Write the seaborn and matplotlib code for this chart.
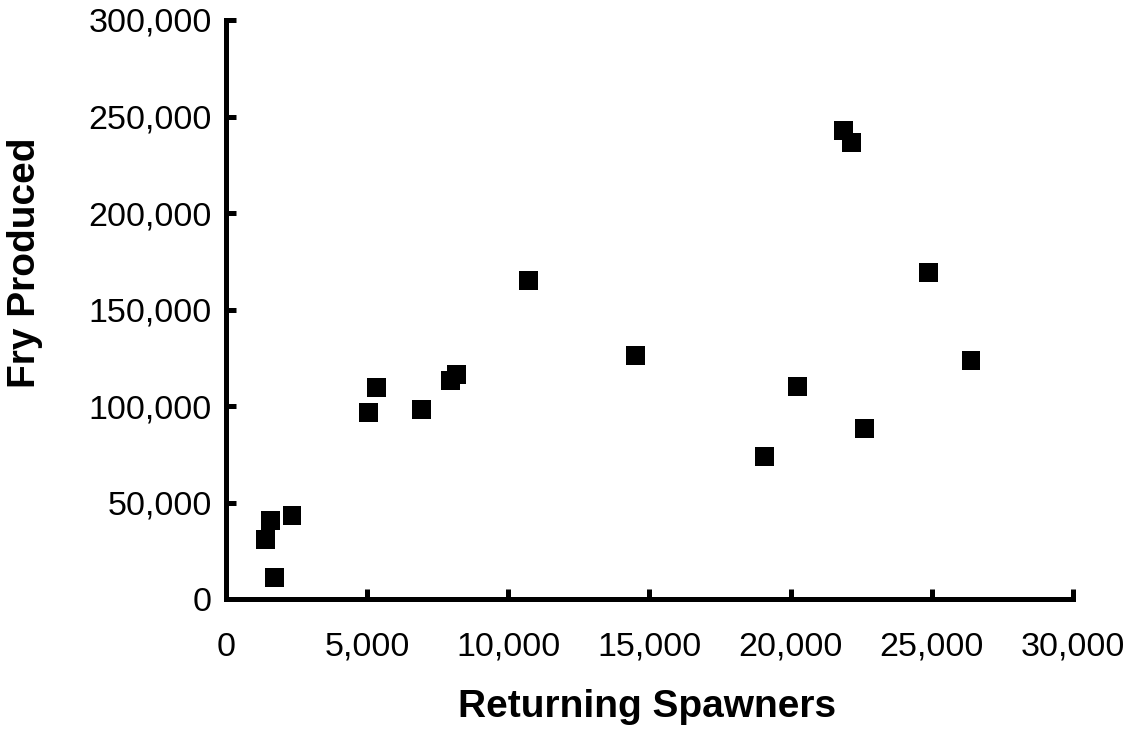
import pandas as pd
import seaborn as sns
import matplotlib.pyplot as plt
from matplotlib.ticker import FuncFormatter

# Spawner / fry data
spawners = [1400, 1580, 1730, 2340, 5050, 5320, 6920, 7940, 8170, 10700,
            14500, 19070, 20250, 21880, 22140, 22610, 24875, 26390]
fry = [30800, 40900, 11100, 43300, 96500, 109600, 98200, 113000, 116500, 164900,
       126000, 73700, 110200, 242900, 236700, 88200, 169300, 123700]

x_ticks = [0, 5000, 10000, 15000, 20000, 25000, 30000]
y_ticks = [0, 50000, 100000, 150000, 200000, 250000, 300000]

df = pd.DataFrame({'Returning Spawners': spawners, 'Fry Produced': fry})

sns.set_style("white")
plt.rcParams['font.family'] = ['Liberation Sans', 'DejaVu Sans']

fig = plt.figure(figsize=(11.26, 7.38), dpi=100)
ax = fig.add_axes([0.2007, 0.1883, 0.7522, 0.7846])

sns.scatterplot(data=df, x='Returning Spawners', y='Fry Produced', marker='s',
                s=185, color='black', edgecolor='none', ax=ax)

ax.set_xlim(0, 30000)
ax.set_ylim(0, 300000)
ax.set_xticks(x_ticks)
ax.set_yticks(y_ticks)

# Comma separated tick labels
fmt = FuncFormatter(lambda v, _: f'{int(v):,}')
ax.xaxis.set_major_formatter(fmt)
ax.yaxis.set_major_formatter(fmt)

for side in ['top', 'right']:
    ax.spines[side].set_visible(False)
for side in ['left', 'bottom']:
    ax.spines[side].set_linewidth(3.6)
    ax.spines[side].set_color('black')

# ticks point inward, as in the original
ax.tick_params(axis='x', bottom=True, direction='in', length=7, width=3.6, pad=23.5,
               labelsize=24.5, colors='black')
ax.tick_params(axis='y', left=True, direction='in', length=7, width=3.6, pad=10,
               labelsize=24.5, colors='black')

ax.set_xlabel('Returning Spawners', fontsize=28, fontweight='bold', color='black')
ax.set_ylabel('Fry Produced', fontsize=28, fontweight='bold', color='black')
ax.xaxis.set_label_coords(0.497, -0.155)
ax.yaxis.set_label_coords(-0.216, 0.58)

plt.savefig('out.png', dpi=100)
